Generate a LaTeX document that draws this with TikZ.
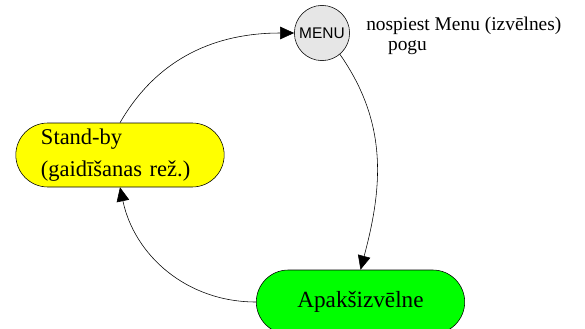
\documentclass[tikz,border=0pt]{standalone}
\usepackage{fontspec}
\setmainfont{Liberation Serif}
\newfontfamily\menufont{Liberation Sans}
\usepackage{xcolor}
\usetikzlibrary{shapes,arrows.meta,positioning}
\definecolor{menugray}{RGB}{230,230,230}
\definecolor{standbyyellow}{RGB}{255,255,0}
\definecolor{submenugreen}{RGB}{0,255,0}

\begin{document}
\begin{tikzpicture}[
    state/.style={draw, rounded rectangle, minimum width=5.35cm, minimum height=1.6cm, inner sep=2pt},
    arrow/.style={-{Triangle[length=10pt,width=9pt]}, thin}
]
    \useasboundingbox (0,0) rectangle (14.625,-8.225);

    % MENU button
    \node[draw, circle, fill=menugray, minimum size=1.38cm, inner sep=0pt, font=\menufont\fontsize{11}{13}\selectfont] (menu) at (8.05,-0.825) {MENU};
    \node[anchor=north west, align=left, inner sep=0pt, font=\fontsize{13.8}{14.5}\selectfont] (hint) at (9.15,-0.42) {nospiest Menu (izvēlnes)\\\hspace*{15.5pt}pogu};

    % Stand-by
    \node[state, fill=standbyyellow, align=left, text width=3.95cm, font=\fontsize{16}{22.5}\selectfont] (standby) at (3.0,-3.875) {Stand-by\\(gaidīšanas rež.)};

    % Submenu
    \node[state, fill=submenugreen, font=\fontsize{16.5}{20}\selectfont] (submenu) at (9.0125,-7.55) {Apakšizvēlne};

    % Arrows
    \draw[arrow] (standby.north) to[out=60, in=180] (menu.west);
    \draw[arrow] (menu.-50) to[out=-55, in=75] (submenu.north);
    \draw[arrow] (submenu.west) to[out=180, in=-78] (standby.south);
\end{tikzpicture}
\end{document}
